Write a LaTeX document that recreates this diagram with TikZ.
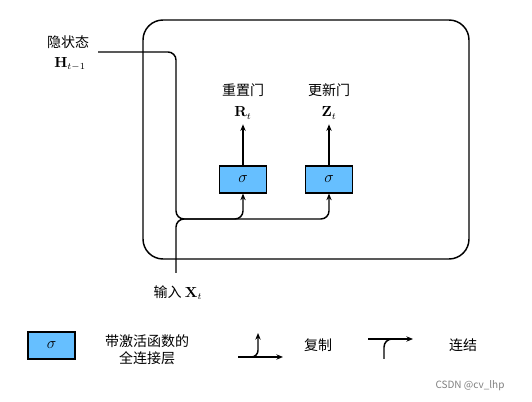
\documentclass[tikz,border=0pt]{standalone}
\usepackage{amsmath}
\usepackage[no-math]{fontspec}
\setmainfont{Noto Sans CJK SC}
\usetikzlibrary{arrows.meta}
\definecolor{gatefill}{RGB}{102,191,255}

\begin{document}
\begin{tikzpicture}[x=0.75pt, y=-0.75pt, line width=1.1pt,
  font=\fontsize{10.5}{13}\selectfont,
  >={Stealth[length=5pt,width=4pt]},
  gate/.style={draw, fill=gatefill, minimum width=35pt, minimum height=20pt, inner sep=0pt, font=\fontsize{12}{14}\selectfont}]
  \useasboundingbox (0, 0) rectangle (532, 402);

  % cell
  \draw[rounded corners=15pt] (143, 20) rectangle (469, 259);

  % gates
  \node[gate] (rbox) at (243, 179.5) {$\sigma$};
  \node[gate] (zbox) at (329, 179.5) {$\sigma$};

  \node (rsym) at (243, 113) {$\mathbf{R}_t$};
  \node (rlab) at (243, 90) {重置门};
  \node (zsym) at (329, 113) {$\mathbf{Z}_t$};
  \node (zlab) at (329, 90) {更新门};

  \draw[->] (rbox.north) -- (rsym.south);
  \draw[->] (zbox.north) -- (zsym.south);

  % inputs
  \node (hlab) at (68, 42) {隐状态};
  \node (hsym) at (70, 64) {$\mathbf{H}_{t-1}$};
  \node (xlab) at (178, 293) {输入 $\mathbf{X}_t$};

  \coordinate (hin) at (98, 52);
  \coordinate (xin) at (176, 273);
  \coordinate (mix) at (176, 219);
  \coordinate (bend) at (200, 219);

  \draw[->, rounded corners=6pt] (hin) -| (mix) -| (rbox.south);
  \draw[->, rounded corners=6pt] (xin) |- (bend) -| (zbox.south);

  % legend
  \node[gate] (lbox) at (51.5, 345.5) {$\sigma$};
  \node[align=center] (ltxt) at (147, 350) {带激活函数的\\全连接层};

  \coordinate (cpa) at (238, 357);
  \coordinate (cpb) at (283, 357);
  \draw[->] (cpa) -- (cpb);
  \draw[->, rounded corners=5pt] (249, 357) -| (258, 333);
  \node (cptxt) at (318, 345) {复制};

  \coordinate (cca) at (368, 339);
  \coordinate (ccb) at (413, 339);
  \draw[->] (cca) -- (ccb);
  \draw[rounded corners=6pt] (384, 359) |- (396, 339);
  \node (cctxt) at (463, 345) {连结};

  \node[gray, font=\fontsize{7.5}{9}\selectfont] (mark) at (470, 386) {CSDN @cv\_lhp};
\end{tikzpicture}
\end{document}
